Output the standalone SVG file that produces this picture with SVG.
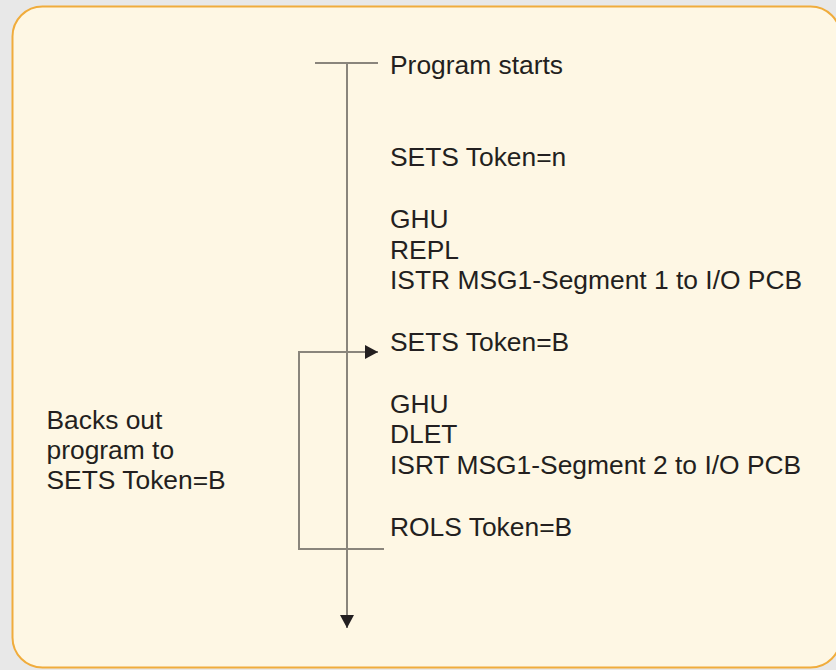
<svg xmlns="http://www.w3.org/2000/svg" width="836" height="670" viewBox="0 0 836 670">
<style>
.t{font-family:"Liberation Sans",Arial,sans-serif;font-size:26.4px;fill:#231f20}
.ln{stroke:#8a857c;stroke-width:2;fill:none}
</style>
<defs>
<marker id="ah" markerWidth="13" markerHeight="14" refX="13" refY="7" orient="auto" markerUnits="userSpaceOnUse" viewBox="0 0 13 14">
<path d="M0,0 L13,7 L0,14 Z" fill="#231f20"/>
</marker>
</defs>
<rect x="0" y="0" width="836" height="670" fill="#e8e8e8"/>
<rect id="frame" x="12.5" y="6.5" width="828" height="661" rx="30" ry="30" fill="#fef7e4" stroke="#f0ac3c" stroke-width="2"/>
<g id="connectors">
<line class="ln" x1="315" y1="63" x2="378" y2="63"/>
<line class="ln" x1="347" y1="63" x2="347" y2="628" marker-end="url(#ah)"/>
<polyline class="ln" points="384,549 299,549 299,352 378,352" marker-end="url(#ah)"/>
</g>
<g id="main-text">
<text class="t" x="390" y="73.5">Program starts</text>
<text class="t" x="390" y="166">SETS Token=n</text>
<text class="t" x="390" y="228">GHU</text>
<text class="t" x="390" y="258.5">REPL</text>
<text class="t" x="390" y="289">ISTR MSG1-Segment 1 to I/O PCB</text>
<text class="t" x="390" y="351">SETS Token=B</text>
<text class="t" x="390" y="412.5">GHU</text>
<text class="t" x="390" y="443">DLET</text>
<text class="t" x="390" y="473.5">ISRT MSG1-Segment 2 to I/O PCB</text>
<text class="t" x="390" y="535.5">ROLS Token=B</text>
</g>
<g id="side-note">
<text class="t" x="46.5" y="428.5">Backs out</text>
<text class="t" x="46.5" y="459">program to</text>
<text class="t" x="46.5" y="489">SETS Token=B</text>
</g>
</svg>
